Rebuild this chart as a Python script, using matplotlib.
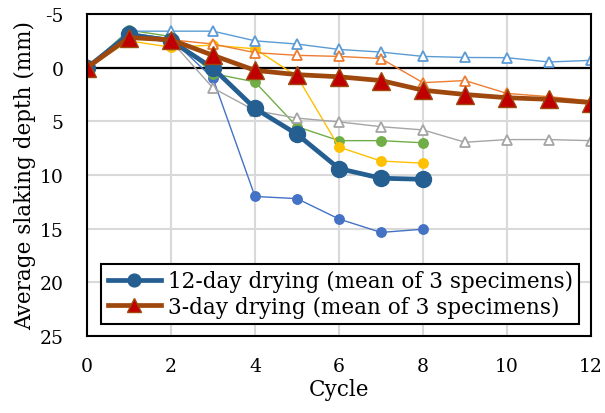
import matplotlib
matplotlib.use("Agg")
import matplotlib.pyplot as plt

plt.rcParams['font.family'] = ['DejaVu Serif']

cycles_12 = [0, 1, 2, 3, 4, 5, 6, 7, 8]
cycles_3 = [0, 1, 2, 3, 4, 5, 6, 7, 8, 9, 10, 11, 12]

# 12-day drying specimens
spec12_blue = [0, -3.2, -2.7, 1.0, 12.0, 12.2, 14.1, 15.35, 15.05]
spec12_green = [0, -3.5, -2.9, 0.55, 1.33, 5.5, 6.8, 6.8, 7.0]
spec12_yellow = [0, -2.5, -1.9, -2.1, -1.75, 0.8, 7.4, 8.7, 8.9]
mean12 = [0, -3.1, -2.5, 0.05, 3.8, 6.2, 9.4, 10.3, 10.4]

# 3-day drying specimens
spec3_lightblue = [0, -3.4, -3.4, -3.4, -2.5, -2.2, -1.7, -1.45, -1.05, -0.95, -0.93, -0.53, -0.68]
spec3_orange = [0, -2.8, -2.6, -2.2, -1.4, -1.15, -1.05, -0.85, 1.4, 1.2, 2.4, 2.7, 3.1]
spec3_gray = [0, -2.9, -2.5, 1.9, 4.0, 4.7, 5.05, 5.5, 5.8, 6.95, 6.7, 6.7, 6.8]
mean3 = [0, -2.8, -2.6, -1.15, 0.25, 0.65, 0.85, 1.2, 2.1, 2.5, 2.8, 2.95, 3.25]

xticks = [0, 2, 4, 6, 8, 10, 12]
yticks = [-5, 0, 5, 10, 15, 20, 25]
ytick_labels = ['-5', '0', '5', '10', '15', '20', '25']

label12 = "12-day drying (mean of 3 specimens)"
label3 = "3-day drying (mean of 3 specimens)"

fig = plt.figure(figsize=(6.05, 4.14), dpi=100)
ax = fig.add_axes([87 / 605, 1 - 337 / 414, 504 / 605, 322 / 414])

thin = dict(linewidth=1.0, markersize=6.8, zorder=3)
ax.plot(cycles_12, spec12_blue, color='#4472C4', marker='o', **thin)
ax.plot(cycles_12, spec12_green, color='#70AD47', marker='o', **thin)
ax.plot(cycles_12, spec12_yellow, color='#FFC000', marker='o', **thin)
ax.plot(cycles_3, spec3_lightblue, color='#5B9BD5', marker='^', markerfacecolor='white',
        markeredgewidth=1.3, **thin)
ax.plot(cycles_3, spec3_orange, color='#ED7D31', marker='^', markerfacecolor='white',
        markeredgewidth=1.3, **thin)
ax.plot(cycles_3, spec3_gray, color='#A5A5A5', marker='^', markerfacecolor='white',
        markeredgewidth=1.3, **thin)

l12, = ax.plot(cycles_12, mean12, color='#255E91', marker='o', linewidth=3.4,
               markersize=11.5, zorder=5, label=label12)
l3, = ax.plot(cycles_3, mean3, color='#9E480E', marker='^', markerfacecolor='#C00000',
              markeredgecolor='#9E480E', markeredgewidth=1.0, linewidth=3.4,
              markersize=12.5, zorder=6, label=label3)

ax.axhline(0, color='black', linewidth=1.6, zorder=2)

ax.set_xlim(0, 12)
ax.set_ylim(25, -5)
ax.set_xticks(xticks)
ax.set_yticks(yticks)
ax.set_yticklabels(ytick_labels)
ax.grid(True, color='#D9D9D9', linewidth=1.5, zorder=0)
ax.set_axisbelow(True)
ax.tick_params(length=0, labelsize=13.5)
ax.tick_params(axis='x', pad=15)
ax.tick_params(axis='y', pad=17)
for s in ax.spines.values():
    s.set_color('black')
    s.set_linewidth(1.5)
    s.set_zorder(7)

ax.set_xlabel('Cycle', fontsize=15.5, labelpad=2)
ax.set_ylabel('Average slaking depth (mm)', fontsize=15.5, labelpad=2)

leg = ax.legend(handles=[l12, l3], loc='lower left', bbox_to_anchor=(0.028, 0.037),
                fontsize=15.5, frameon=True, fancybox=False, edgecolor='black',
                framealpha=1, handlelength=2.5, handletextpad=0.3, borderpad=0.3,
                labelspacing=0.15, borderaxespad=0, markerscale=0.8)
leg.get_frame().set_linewidth(1.5)
leg.set_zorder(10)

fig.savefig('out.png', dpi=100)
